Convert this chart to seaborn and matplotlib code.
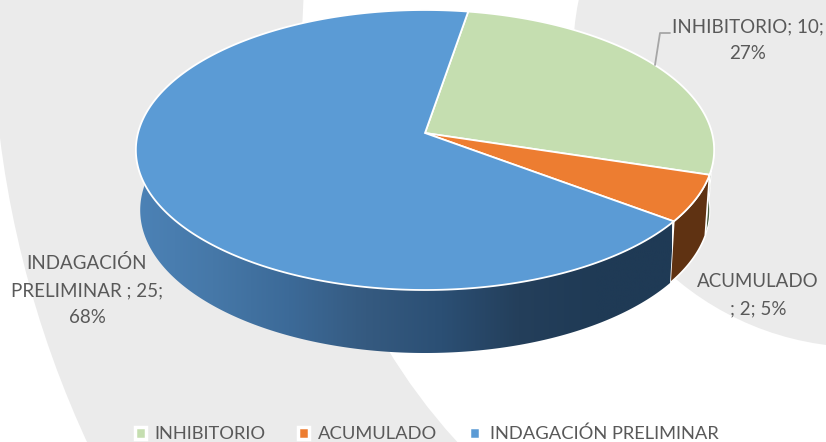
import numpy as np
import pandas as pd
import seaborn as sns
import matplotlib.pyplot as plt
from matplotlib.patches import Circle, Patch, Polygon

categories = ['INHIBITORIO', 'ACUMULADO', 'INDAGACIÓN PRELIMINAR']
values = [10, 2, 25]
labels = ['INHIBITORIO; 10;\n27%', 'ACUMULADO\n; 2; 5%', 'INDAGACIÓN\nPRELIMINAR ; 25;\n68%']

top_colors = ['#c5deb0', '#ed7d31', '#5b9bd5']
side_colors = ['#4a5f42', '#5f3212']
blue_side = ['#4c82b6', '#4678a8', '#3c6a98', '#355a80', '#2b4f74', '#243f5b', '#1f3a55', '#1f3a55']

sns.set_theme(style='white')
plt.rcParams['font.family'] = ['Lato', 'DejaVu Sans']

df = pd.DataFrame({'category': categories, 'value': values, 'label': labels, 'color': top_colors})
df['angle'] = df['value'] / df['value'].sum() * 360
df['start'] = 9.7 + df['angle'].cumsum() - df['angle']
df['end'] = df['start'] + df['angle']


# circle in the pie plane -> screen pixels, with a bit of perspective
def project(deg):
    t = np.radians(deg)
    u, v = np.sin(t), np.cos(t)
    w = 1 + 0.1214 * v
    return 425 + 287 * u / w, (133 - 121.8 * v) / w


def project_low(deg):
    x, y = project(deg)
    return 425 + (x - 425) * 0.985, y * 1.02 + 57.2


def wall(a, b):
    t = np.linspace(a, b, 200)
    x1, y1 = project(t)
    x2, y2 = project_low(t)
    return np.r_[np.c_[x1, y1], np.c_[x2, y2][::-1]]


fig = plt.figure(figsize=(8.26, 4.42), dpi=100)
ax = fig.add_axes([0, 0, 1, 1])

# background rings
ax.add_patch(Circle((1022, 10), 1030, fc='#ebebeb', ec='none', zorder=0))
ax.add_patch(Circle((895, 42), 593, fc='white', ec='none', zorder=0.1))
ax.add_patch(Circle((862.7, 57.5), 289.8, fc='#ebebeb', ec='none', zorder=0.2))

# side walls
green = df.iloc[0]
orange = df.iloc[1]
blue = df.iloc[2]
ax.add_patch(Polygon(wall(green['end'] - 14, green['end']), fc=side_colors[0], ec='white', lw=0.8, zorder=1))
ax.add_patch(Polygon(wall(orange['start'], orange['end']), fc=side_colors[1], ec='white', lw=1.2, zorder=1))

blue_wall = Polygon(wall(blue['start'], 280), fc='none', ec='none', zorder=1)
ax.add_patch(blue_wall)
grad = ax.imshow(np.linspace(0, 1, 256).reshape(1, -1), extent=(136, 672, 353, 150), aspect='auto',
                 cmap=sns.blend_palette(blue_side, as_cmap=True), zorder=1)
grad.set_clip_path(blue_wall)

# top of the pie
for _, row in df.iterrows():
    x, y = project(np.linspace(row['start'], row['end'], 300))
    ax.fill(np.r_[425, x], np.r_[133, y], color=row['color'], ec='white', lw=1.3, zorder=2)

# data labels
ax.plot([655, 660, 670], [65, 33, 33], color='#a6a6a6', lw=1.3, zorder=3)
label_pos = [(748, 40), (758, 295), (87, 290)]
for text, (lx, ly) in zip(df['label'], label_pos):
    ax.text(lx, ly, text, ha='center', va='center', fontsize=13.5, color='#595959', linespacing=1.72, zorder=4)

handles = [Patch(fc=c, ec='white', lw=2.5) for c in df['color']]
ax.legend(handles, df['category'], ncol=3, frameon=False, loc='center', bbox_to_anchor=(426.5 / 826, 1 - 434 / 442),
          fontsize=13.2, labelcolor='#595959', handlelength=0.6, handleheight=0.6, handletextpad=0.5,
          columnspacing=1.75, borderpad=0, borderaxespad=0)

ax.set_xlim(0, 826)
ax.set_ylim(442, 0)
ax.axis('off')

plt.savefig('out.png', dpi=100)
plt.close()
